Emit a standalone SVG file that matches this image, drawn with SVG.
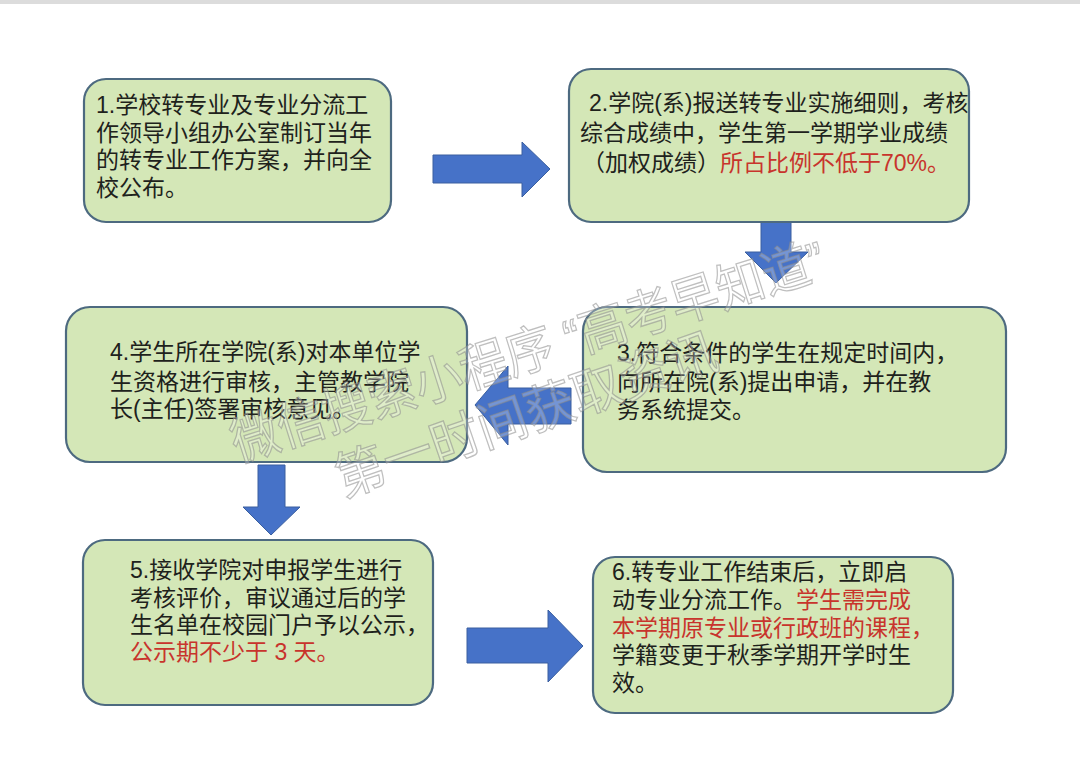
<svg xmlns="http://www.w3.org/2000/svg" width="1080" height="759" viewBox="0 0 1080 759">
<defs>
<style>
.box{fill:#d4e7b7;stroke:#4d6a80;stroke-width:2.2}
.t{font-family:"Liberation Sans","Noto Sans CJK SC",sans-serif;font-size:23px;fill:#1e221c}
.r{fill:#c8342c}
.arr{fill:#4672c8;stroke:#3a5f9f;stroke-width:1}
.wm{font-family:"Liberation Sans","Noto Sans CJK SC",sans-serif;font-size:52px;fill:#ffffff;fill-opacity:0.25;stroke:#8a8a8a;stroke-opacity:0.55;stroke-width:1.3}
</style>
</defs>
<rect x="0" y="0" width="1080" height="759" fill="#ffffff"/>
<rect x="0" y="0" width="1080" height="4" fill="#dcdcdc"/>

<g id="connectors">
<polygon class="arr" points="433,155 522,155 522,142 550,169 522,197 522,183 433,183"/>
<polygon class="arr" points="761,222 791,222 791,252 808,252 776,283 745,252 761,252"/>
<polygon class="arr" points="571,388 508,388 508,366 475,405 508,445 508,424 571,424"/>
<polygon class="arr" points="258,465 285,465 285,507 300,507 271,535 243,507 258,507"/>
<polygon class="arr" points="467,628 548,628 548,610 583,646 548,682 548,663 467,663"/>
</g>

<g id="node1">
<rect class="box" x="84" y="79" width="307" height="143" rx="22"/>
<text class="t"><tspan x="96" y="113">1.学校转专业及专业分流工</tspan><tspan x="96" y="141">作领导小组办公室制订当年</tspan><tspan x="96" y="168">的转专业工作方案，并向全</tspan><tspan x="96" y="196">校公布。</tspan></text>
</g>

<g id="node2">
<rect class="box" x="569" y="69" width="400" height="153" rx="22"/>
<text class="t"><tspan x="589" y="111">2.学院(系)报送转专业实施细则，考核</tspan><tspan x="580" y="141">综合成绩中，学生第一学期学业成绩</tspan><tspan x="582" y="171">（加权成绩）<tspan class="r">所占比例不低于70%。</tspan></tspan></text>
</g>

<g id="node3">
<rect class="box" x="583" y="307" width="423" height="165" rx="24"/>
<text class="t"><tspan x="617" y="361">3.符合条件的学生在规定时间内，</tspan><tspan x="617" y="390">向所在院(系)提出申请，并在教</tspan><tspan x="617" y="418">务系统提交。</tspan></text>
</g>

<g id="node4">
<rect class="box" x="66" y="307" width="401" height="155" rx="24"/>
<text class="t"><tspan x="110" y="360">4.学生所在学院(系)对本单位学</tspan><tspan x="110" y="390">生资格进行审核，主管教学院</tspan><tspan x="110" y="417">长(主任)签署审核意见。</tspan></text>
</g>

<g id="node5">
<rect class="box" x="83" y="540" width="350" height="165" rx="22"/>
<text class="t"><tspan x="130" y="578">5.接收学院对申报学生进行</tspan><tspan x="130" y="606">考核评价，审议通过后的学</tspan><tspan x="130" y="633">生名单在校园门户予以公示，</tspan><tspan class="r" x="130" y="660">公示期不少于 3 天。</tspan></text>
</g>

<g id="node6">
<rect class="box" x="593" y="557" width="360" height="156" rx="22"/>
<text class="t"><tspan x="612" y="580">6.转专业工作结束后，立即启</tspan><tspan x="612" y="608">动专业分流工作。<tspan class="r">学生需完成</tspan></tspan><tspan class="r" x="612" y="636">本学期原专业或行政班的课程，</tspan><tspan x="612" y="663">学籍变更于秋季学期开学时生</tspan><tspan x="612" y="691">效。</tspan></text>
</g>

<g id="watermark">
<text class="wm" transform="translate(238,462) rotate(-17.5)" textLength="620" lengthAdjust="spacingAndGlyphs">微信搜索小程序 “高考早知道”</text>
<text class="wm" transform="translate(343,497) rotate(-19)" textLength="400" lengthAdjust="spacingAndGlyphs">第一时间获取资讯</text>
</g>
</svg>
